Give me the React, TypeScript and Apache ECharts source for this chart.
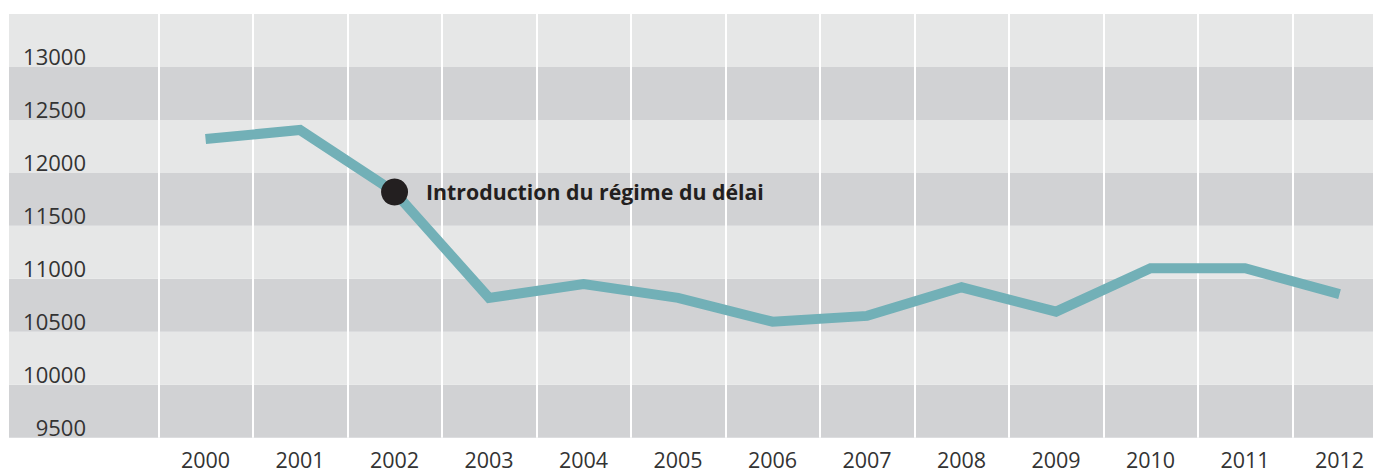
import React, { useEffect, useRef } from "react";
import * as echarts from "echarts";

const years = ["2000", "2001", "2002", "2003", "2004", "2005", "2006", "2007", "2008", "2009", "2010", "2011", "2012"];
const values = [12320, 12405, 11820, 10820, 10950, 10820, 10595, 10650, 10920, 10690, 11100, 11100, 10855];
const annotationYear = "2002";
const annotationValue = 11820;
const annotationText = "Introduction du régime du délai";
const yMin = 9500;
const yMax = 13500;
const yStep = 500;

const FONT = "'Open Sans', 'Noto Sans', sans-serif";

export default function App() {
  const ref = useRef<HTMLDivElement>(null);
  useEffect(() => {
    if (!ref.current) return;
    const chart = echarts.init(ref.current, undefined, { renderer: "svg" });
    chart.setOption({
      animation: false,
      backgroundColor: "#ffffff",
      grid: [
        { left: 9, right: -30, top: 14, bottom: 35.3, outerBoundsMode: "none", containLabel: false },
        { left: 158.3, right: -13.8, top: 14, bottom: 35.3, outerBoundsMode: "none", containLabel: false },
      ],
      xAxis: [
        { type: "value", gridIndex: 0, show: false, min: 0, max: 1 },
        {
          type: "category",
          gridIndex: 1,
          data: years,
          boundaryGap: true,
          axisLine: { show: false },
          axisTick: { show: false },
          splitLine: { show: true, interval: 0, lineStyle: { color: "#ffffff", width: 2 } },
          axisLabel: {
            fontSize: 21.5,
            lineHeight: 20,
            color: "#333333",
            fontFamily: FONT,
            margin: 12,
            interval: 0,
          },
        },
      ],
      yAxis: [
        {
          type: "value",
          gridIndex: 0,
          min: yMin,
          max: yMax,
          interval: yStep,
          axisLine: { show: false },
          axisTick: { show: false },
          splitLine: { show: false },
          splitArea: { show: true, areaStyle: { color: ["#d1d2d4", "#e6e7e7"] } },
          axisLabel: {
            inside: true,
            align: "right",
            verticalAlign: "bottom",
            margin: 77,
            fontSize: 22,
            color: "#333333",
            fontFamily: FONT,
            showMaxLabel: false,
            formatter: (v: number) => String(v),
          },
        },
        {
          type: "value",
          gridIndex: 1,
          min: yMin,
          max: yMax,
          interval: yStep,
          show: false,
          splitLine: { show: false },
        },
      ],
      series: [
        {
          type: "line",
          xAxisIndex: 1,
          yAxisIndex: 1,
          data: values,
          symbol: "none",
          lineStyle: { color: "#72b0b7", width: 10, join: "miter", cap: "butt" },
          z: 3,
          markPoint: {
            symbol: "circle",
            symbolSize: 27,
            itemStyle: { color: "#231f20" },
            label: {
              show: true,
              position: "right",
              distance: 18,
              fontSize: 21.3,
              fontWeight: "bold",
              fontFamily: FONT,
              color: "#231f20",
              formatter: annotationText,
            },
            data: [{ coord: [annotationYear, annotationValue] }],
          },
        },
      ],
    });
    return () => chart.dispose();
  }, []);
  return (
    <div
      ref={ref}
      style={{ position: "fixed", left: 0, top: 0, width: 1373, height: 473 }}
    />
  );
}
